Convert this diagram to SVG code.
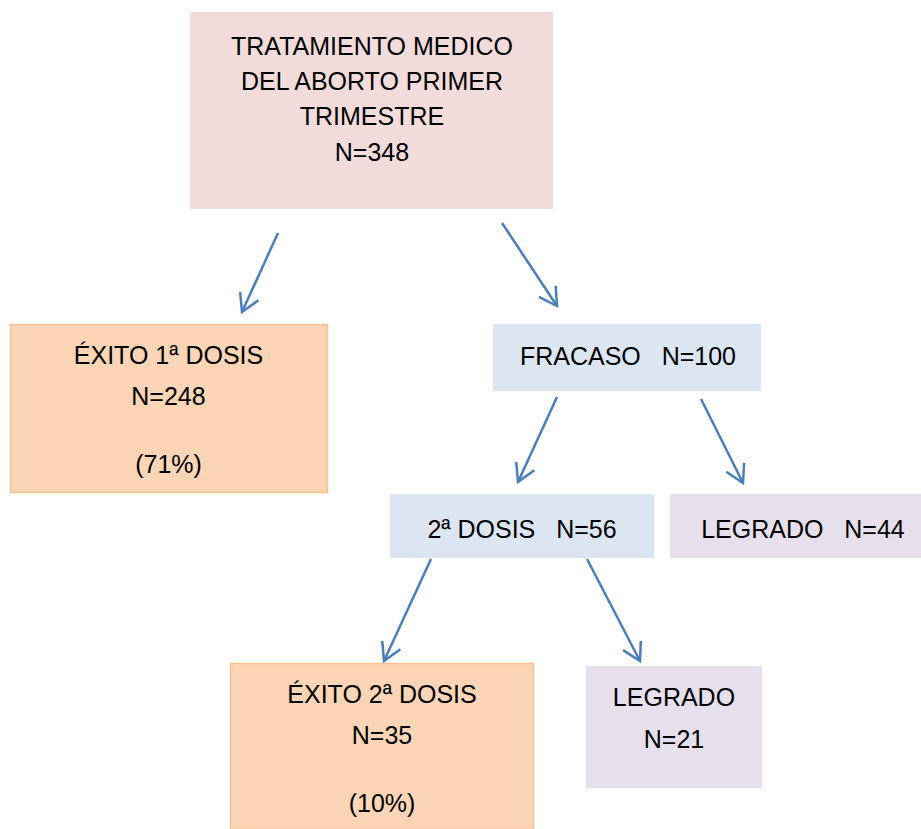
<svg xmlns="http://www.w3.org/2000/svg" width="921" height="829" viewBox="0 0 921 829">
  <style>
    .t { font-family: "Liberation Sans", Arial, sans-serif; font-size: 25px; fill: #000; text-anchor: middle; white-space: pre; }
    .pink { fill: #F2DCDB; }
    .peach { fill: #FBD5B5; stroke: #FAC090; stroke-width: 1.5; }
    .blue { fill: #DCE6F2; }
    .lilac { fill: #E5E0EC; }
    .conn { fill: none; stroke: #4A7EBB; stroke-width: 2.5; marker-end: url(#arrow); }
  </style>
  <defs>
    <marker id="arrow" markerUnits="userSpaceOnUse" markerWidth="40" markerHeight="40" refX="0" refY="0" orient="auto" overflow="visible">
      <path d="M-17.5 -10 L0 0 L-17.5 10" fill="none" stroke="#4A7EBB" stroke-width="2.5"/>
    </marker>
  </defs>
  <rect width="921" height="829" fill="#fff"/>

  <g id="root">
    <rect class="pink" x="190" y="12" width="363" height="197"/>
    <text class="t" x="372" y="55">TRATAMIENTO MEDICO</text>
    <text class="t" x="372" y="90">DEL ABORTO PRIMER</text>
    <text class="t" x="372" y="125">TRIMESTRE</text>
    <text class="t" x="372" y="161">N=348</text>
  </g>

  <g id="exito1">
    <rect class="peach" x="10.5" y="324.5" width="317" height="168"/>
    <text class="t" x="168.5" y="364">ÉXITO 1ª DOSIS</text>
    <text class="t" x="168.5" y="405">N=248</text>
    <text class="t" x="168.5" y="473">(71%)</text>
  </g>

  <g id="fracaso">
    <rect class="blue" x="493" y="324" width="268" height="67"/>
    <text class="t" x="628" y="365">FRACASO   N=100</text>
  </g>

  <g id="dosis2">
    <rect class="blue" x="390" y="494" width="264" height="64"/>
    <text class="t" x="522" y="538">2ª DOSIS   N=56</text>
  </g>

  <g id="legrado44">
    <rect class="lilac" x="670" y="494" width="251" height="64"/>
    <text class="t" x="803" y="538">LEGRADO   N=44</text>
  </g>

  <g id="exito2">
    <rect class="peach" x="230.5" y="663.5" width="303" height="166"/>
    <text class="t" x="382" y="703">ÉXITO 2ª DOSIS</text>
    <text class="t" x="382" y="744">N=35</text>
    <text class="t" x="382" y="812">(10%)</text>
  </g>

  <g id="legrado21">
    <rect class="lilac" x="586" y="666" width="176" height="122"/>
    <text class="t" x="674" y="706">LEGRADO</text>
    <text class="t" x="674" y="748">N=21</text>
  </g>

  <g id="connectors">
    <line class="conn" x1="278" y1="233" x2="242" y2="312"/>
    <line class="conn" x1="502" y1="223" x2="557" y2="306"/>
    <line class="conn" x1="557" y1="397" x2="518" y2="482"/>
    <line class="conn" x1="701" y1="399" x2="743" y2="483"/>
    <line class="conn" x1="431" y1="559" x2="384" y2="661"/>
    <line class="conn" x1="587" y1="559" x2="640" y2="661"/>
  </g>
</svg>
